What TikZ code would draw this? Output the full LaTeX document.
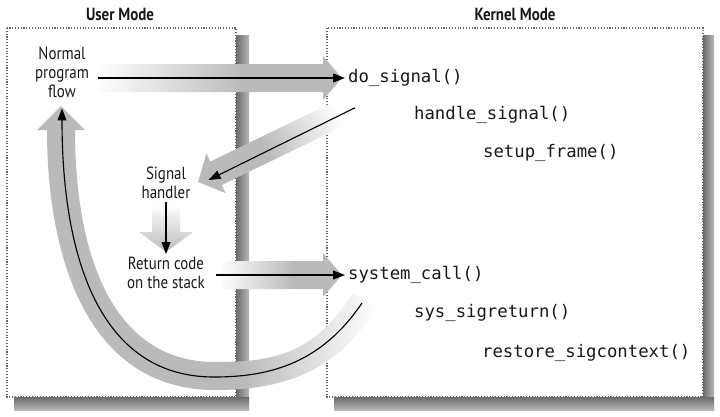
\documentclass[tikz,border=0pt]{standalone}
\usepackage{fontspec}
\setmainfont[FakeStretch=0.85]{PT Sans}
\newfontfamily\codefont{DejaVu Sans Mono}
\usetikzlibrary{arrows.meta,positioning}
\definecolor{bandgray}{gray}{0.73}
\definecolor{shadowgray}{gray}{0.42}
\pgfdeclarehorizontalshading{bandfade}{100bp}{color(0bp)=(white); color(25bp)=(white); color(55bp)=(bandgray); color(100bp)=(bandgray)}
\pgfdeclarehorizontalshading{curvefade}{100bp}{color(0bp)=(bandgray); color(55bp)=(bandgray); color(75bp)=(white); color(100bp)=(white)}

\begin{document}
\begin{tikzpicture}[x=0.025cm,y=-0.025cm,
    lbl/.style={align=center,font=\fontsize{12.5}{13.5}\selectfont,text=black!90,inner sep=2pt},
    code/.style={anchor=west,font=\codefont\fontsize{12.3}{14}\selectfont,text=black!90,inner sep=2pt},
    title/.style={font=\bfseries\fontsize{12.5}{14}\selectfont,text=black!90},
    frame/.style={fill=white,draw=black!60,line width=0.8pt,dash pattern=on 0.8pt off 1.2pt},
    thin/.style={-{Triangle[length=3mm,width=2.2mm]},line width=0.8pt}]
  \useasboundingbox (0,0) rectangle (720,416);
  \shade[left color=shadowgray,right color=black!28] (236,35) rectangle (249,410);
  \shade[top color=shadowgray,bottom color=black!28] (14,397) rectangle (249,410);
  \shade[left color=shadowgray,right color=black!28] (703,35) rectangle (714,410);
  \shade[top color=shadowgray,bottom color=black!28] (334,397) rectangle (714,410);
  \draw[frame] (7,28) rectangle (236,397);
  \draw[frame] (327,28) rectangle (703,397);
  \node[title] (user) at (120,14) {User Mode};
  \node[title] (kernel) at (515,14) {Kernel Mode};

  \shade[shading=curvefade] (377,307) .. controls (336,374) and (280,390) .. (215,390)
    .. controls (90,390) and (47,262) .. (47,130) -- (37,130) -- (61,106) -- (85,130) -- (75,130)
    .. controls (75,250) and (110,362) .. (215,362) .. controls (270,362) and (314,356) .. (353,293) -- cycle;
  \shade[shading=bandfade] (95,64) -- (323,64) -- (323,56) -- (342,78) -- (323,100) -- (323,92) -- (95,92) -- cycle;
  \shade[shading=bandfade,shading angle=206] (345.3,96.2) -- (210.3,161.6) -- (206.4,153.5) -- (198,182)
    -- (225.6,193.1) -- (221.7,185) -- (356.7,119.6) -- cycle;
  \shade[top color=white,bottom color=bandgray] (152,205) -- (180,205) -- (180,232) -- (193,232) -- (166,252) -- (139,232) -- (152,232) -- cycle;
  \shade[shading=bandfade] (220,261) -- (323,261) -- (323,253) -- (342,275) -- (323,297) -- (323,289) -- (220,289) -- cycle;

  \node[lbl] (normal) at (62,72) {Normal\\program\\flow};
  \node[lbl] (sighand) at (166,183) {Signal\\handler};
  \node[lbl] (retcode) at (166,273) {Return code\\on the stack};
  \node[code] (dosig) at (345,78) {do\_signal()};
  \node[code] (handsig) at (411,115) {handle\_signal()};
  \node[code] (setup) at (480,153) {setup\_frame()};
  \node[code] (syscall) at (345,275) {system\_call()};
  \node[code] (sysret) at (411,313) {sys\_sigreturn()};
  \node[code] (restore) at (479,353) {restore\_sigcontext()};
  \coordinate (curvestart) at (362,303);

  \draw[thin] ([xshift=4pt]normal.east |- dosig.west) -- (dosig.west);
  \draw[thin] ([shift={(10,18)}]dosig.south west) -- ([shift={(15,-3)}]sighand.east);
  \draw[thin] (sighand.south) -- (retcode.north);
  \draw[thin] ([xshift=6pt]retcode.east |- syscall.west) -- (syscall.west);
  \draw[thin] (curvestart) .. controls (322,362) and (272,377) .. (214,377)
    .. controls (100,377) and (62,258) .. ([shift={(0,8)}]normal.south);
\end{tikzpicture}
\end{document}
